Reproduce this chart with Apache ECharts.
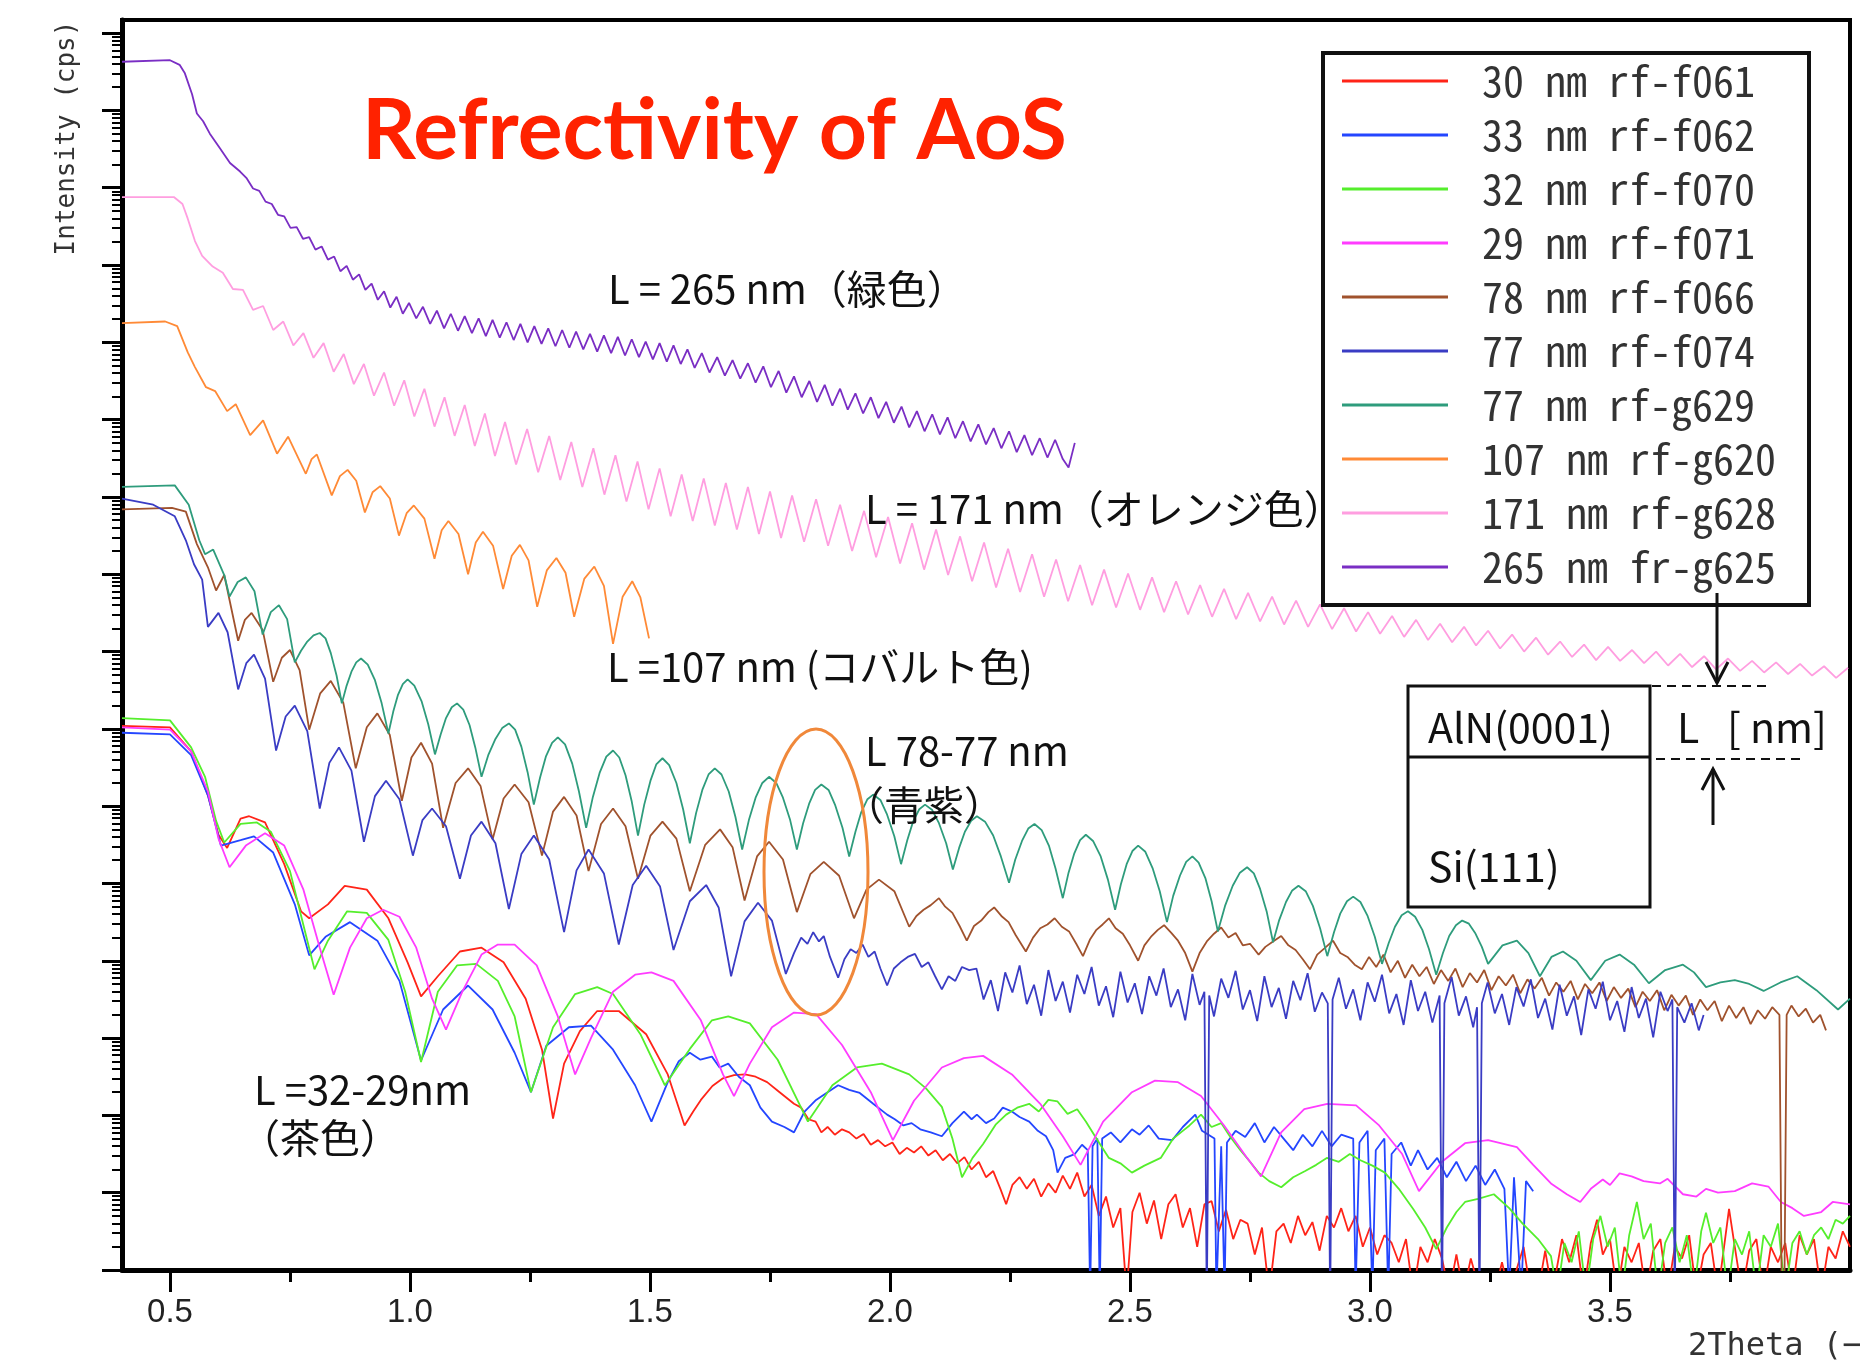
<!DOCTYPE html>
<html>
<head>
<meta charset="utf-8">
<style>
  html, body { margin: 0; padding: 0; background: #fff; }
  #chart { width: 1860px; height: 1360px; }
</style>
<script src="https://cdn.jsdelivr.net/npm/echarts@6/dist/echarts.min.js"></script>
</head>
<body>
<div id="chart"></div>
<script>
// legend names and line colours, same order as the legend box
const seriesNames = ['30 nm rf-f061', '33 nm rf-f062', '32 nm rf-f070', '29 nm rf-f071', '78 nm rf-f066',
  '77 nm rf-f074', '77 nm rf-g629', '107 nm rf-g620', '171 nm rf-g628', '265 nm fr-g625'];
const seriesColors = ['#ff2418', '#2446ff', '#55ee2c', '#ff3cff', '#a0522d',
  '#3a3cc4', '#2e9c7c', '#ff8a36', '#ff9ee0', '#7a2ec4'];

const xMajorTicks = [0.5, 1.0, 1.5, 2.0, 2.5, 3.0, 3.5];
const xMinorTicks = [0.75, 1.25, 1.75, 2.25, 2.75, 3.25, 3.75];
// y axis is in decades (log10 cps), 0 .. 16.17, no labels
const yDecades = [0, 1, 2, 3, 4, 5, 6, 7, 8, 9, 10, 11, 12, 13, 14, 15, 16];

// each point: [2Theta (deg), log10 of intensity (cps)]
const f061 = [[0.400,7.04],[0.500,7.02],[0.544,6.71],[0.579,6.14],[0.601,5.63],[0.619,5.46],[0.647,5.84],[0.665,5.87],[0.698,5.79],[0.738,5.25],[0.773,4.64],[0.790,4.55],[0.829,4.73],[0.864,4.97],[0.910,4.92],[0.955,4.55],[0.995,3.98],[1.023,3.54],[1.058,3.80],[1.104,4.12],[1.149,4.17],[1.195,3.98],[1.241,3.51],[1.275,2.85],[1.298,1.96],[1.321,2.67],[1.354,3.09],[1.390,3.35],[1.435,3.35],[1.492,3.05],[1.537,2.53],[1.572,1.87],[1.590,2.05],[1.606,2.20],[1.630,2.38],[1.652,2.48],[1.675,2.52],[1.698,2.53],[1.720,2.50],[1.744,2.43],[1.770,2.30],[1.800,2.15],[1.815,2.10],[1.830,1.95],[1.845,1.92],[1.857,1.78],[1.870,1.85],[1.885,1.75],[1.900,1.82],[1.915,1.78],[1.930,1.70],[1.945,1.76],[1.960,1.62],[1.975,1.68],[1.990,1.60],[2.005,1.65],[2.020,1.50],[2.035,1.58],[2.050,1.52],[2.065,1.60],[2.080,1.48],[2.095,1.55],[2.110,1.42],[2.125,1.50],[2.140,1.38],[2.155,1.46],[2.170,1.30],[2.185,1.40],[2.200,1.20],[2.215,1.28],[2.230,1.05],[2.242,0.85],[2.255,1.10],[2.270,1.20],[2.285,1.05],[2.300,1.18],[2.315,0.95],[2.330,1.12],[2.345,1.00],[2.360,1.22],[2.375,1.05],[2.390,1.26],[2.405,0.95],[2.420,1.10],[2.435,0.70],[2.450,0.95],[2.465,0.55],[2.480,0.80],[2.493,-0.3],[2.505,0.75],[2.520,1.00],[2.535,0.60],[2.550,0.90],[2.565,0.40],[2.580,0.85],[2.595,0.98],[2.610,0.55],[2.625,0.80],[2.640,0.30],[2.655,0.85],[2.670,0.89],[2.685,0.50],[2.700,0.78],[2.715,0.40],[2.730,0.65],[2.745,0.60],[2.760,0.20],[2.775,0.55],[2.790,-0.3],[2.805,0.50],[2.820,0.60],[2.835,0.35],[2.850,0.70],[2.865,0.45],[2.880,0.62],[2.895,0.25],[2.910,0.70],[2.925,0.55],[2.940,0.80],[2.955,0.50],[2.970,0.70],[2.985,0.30],[3.000,0.55],[3.015,0.20],[3.030,0.45],[3.045,0.35],[3.060,0.10],[3.075,0.40],[3.090,-0.3],[3.105,0.30],[3.120,0.10],[3.135,0.40],[3.150,0.15],[3.165,-0.3],[3.180,0.20],[3.195,-0.3],[3.210,0.15],[3.230,-0.3],[3.260,-0.3],[3.275,0.10],[3.290,-0.3],[3.320,0.30],[3.335,-0.3],[3.350,-0.3],[3.365,0.25],[3.380,-0.3],[3.400,0.40],[3.415,0.10],[3.430,0.45],[3.445,-0.3],[3.460,0.35],[3.473,0.65],[3.485,0.20],[3.500,0.40],[3.515,-0.3],[3.530,0.30],[3.545,0.10],[3.560,0.35],[3.575,-0.3],[3.590,0.25],[3.605,0.40],[3.620,-0.3],[3.635,0.30],[3.650,0.15],[3.665,0.45],[3.680,-0.3],[3.695,0.20],[3.710,0.35],[3.725,-0.3],[3.748,0.79],[3.760,0.30],[3.775,-0.3],[3.790,0.25],[3.805,0.40],[3.820,-0.3],[3.835,0.30],[3.850,0.10],[3.865,0.35],[3.880,-0.3],[3.895,0.45],[3.910,0.20],[3.925,0.40],[3.940,-0.3],[3.955,0.30],[3.970,0.15],[3.985,0.50],[4.000,0.30]];

const f062 = [[0.400,6.95],[0.500,6.93],[0.544,6.66],[0.579,6.14],[0.606,5.49],[0.647,5.56],[0.675,5.61],[0.715,5.40],[0.760,4.73],[0.790,4.07],[0.824,4.31],[0.875,4.50],[0.932,4.26],[0.978,3.74],[1.023,2.71],[1.069,3.37],[1.121,3.68],[1.172,3.37],[1.218,2.81],[1.252,2.30],[1.284,2.90],[1.331,3.14],[1.377,3.16],[1.423,2.85],[1.469,2.39],[1.503,1.92],[1.537,2.43],[1.560,2.70],[1.583,2.81],[1.605,2.72],[1.629,2.76],[1.645,2.62],[1.663,2.67],[1.685,2.50],[1.708,2.39],[1.730,2.10],[1.754,1.92],[1.780,1.85],[1.800,1.78],[1.822,2.05],[1.846,2.20],[1.870,2.30],[1.892,2.39],[1.915,2.33],[1.937,2.29],[1.965,2.15],[1.994,2.01],[2.010,1.95],[2.028,1.87],[2.045,1.90],[2.063,1.82],[2.085,1.78],[2.108,1.73],[2.130,1.90],[2.154,2.05],[2.170,1.95],[2.181,2.01],[2.200,1.90],[2.217,1.96],[2.235,2.10],[2.254,2.05],[2.270,1.98],[2.290,1.92],[2.308,1.80],[2.325,1.73],[2.340,1.55],[2.349,1.26],[2.365,1.45],[2.385,1.50],[2.400,1.62],[2.412,1.55],[2.417,-0.3],[2.422,1.60],[2.432,1.70],[2.437,-0.3],[2.442,1.70],[2.460,1.78],[2.480,1.65],[2.504,1.82],[2.520,1.75],[2.539,1.87],[2.560,1.70],[2.588,1.68],[2.610,1.85],[2.636,2.01],[2.650,1.80],[2.676,1.70],[2.680,-0.3],[2.690,1.60],[2.697,-0.3],[2.702,1.65],[2.720,1.80],[2.740,1.72],[2.760,1.90],[2.780,1.65],[2.800,1.85],[2.820,1.70],[2.840,1.55],[2.860,1.75],[2.880,1.60],[2.900,1.80],[2.920,1.60],[2.940,1.75],[2.965,1.70],[2.970,-0.3],[2.978,1.65],[2.995,1.80],[3.005,-0.3],[3.012,1.55],[3.030,1.70],[3.038,-0.3],[3.045,1.50],[3.065,1.65],[3.085,1.35],[3.100,1.55],[3.120,1.30],[3.140,1.45],[3.160,1.20],[3.180,1.40],[3.200,1.15],[3.220,1.35],[3.240,1.10],[3.260,1.30],[3.280,1.05],[3.290,-0.3],[3.300,1.20],[3.315,-0.3],[3.325,1.15],[3.340,1.02]];

const f070 = [[0.400,7.14],[0.500,7.11],[0.544,6.76],[0.573,6.38],[0.596,5.81],[0.613,5.53],[0.647,5.77],[0.681,5.79],[0.710,5.67],[0.750,5.16],[0.778,4.46],[0.801,3.89],[0.829,4.26],[0.869,4.64],[0.910,4.62],[0.955,4.27],[0.990,3.60],[1.023,2.69],[1.058,3.60],[1.098,3.94],[1.138,3.96],[1.183,3.74],[1.218,3.28],[1.252,2.30],[1.298,3.14],[1.344,3.57],[1.390,3.66],[1.423,3.57],[1.480,3.05],[1.531,2.39],[1.583,2.86],[1.629,3.23],[1.663,3.28],[1.708,3.19],[1.766,2.72],[1.829,1.92],[1.880,2.39],[1.931,2.62],[1.983,2.67],[2.040,2.53],[2.075,2.35],[2.108,2.11],[2.130,1.70],[2.150,1.20],[2.172,1.45],[2.194,1.63],[2.220,1.88],[2.242,2.01],[2.265,2.10],[2.290,2.15],[2.310,2.05],[2.330,2.20],[2.349,2.18],[2.370,2.02],[2.390,2.08],[2.408,1.92],[2.430,1.70],[2.456,1.45],[2.480,1.38],[2.504,1.26],[2.530,1.35],[2.564,1.45],[2.590,1.70],[2.610,1.80],[2.624,1.87],[2.648,2.01],[2.670,1.85],[2.690,1.90],[2.708,1.73],[2.730,1.55],[2.750,1.40],[2.768,1.26],[2.790,1.15],[2.815,1.07],[2.840,1.20],[2.865,1.28],[2.888,1.36],[2.910,1.45],[2.935,1.40],[2.958,1.50],[2.980,1.42],[3.005,1.35],[3.031,1.26],[3.060,1.05],[3.090,0.79],[3.115,0.55],[3.138,0.27],[3.160,0.55],[3.180,0.75],[3.198,0.88],[3.225,0.92],[3.258,0.98],[3.290,0.80],[3.318,0.60],[3.350,0.40],[3.377,0.18],[3.390,-0.3],[3.405,0.35],[3.420,0.10],[3.435,0.50],[3.450,-0.3],[3.465,0.40],[3.480,0.70],[3.495,0.30],[3.510,0.55],[3.525,-0.3],[3.540,0.45],[3.556,0.88],[3.570,0.40],[3.585,0.60],[3.600,-0.3],[3.615,0.35],[3.630,0.55],[3.645,0.10],[3.660,0.45],[3.675,-0.3],[3.690,0.50],[3.700,0.74],[3.715,0.35],[3.730,0.55],[3.745,-0.3],[3.760,0.40],[3.775,0.20],[3.790,0.50],[3.805,-0.3],[3.820,0.45],[3.835,0.30],[3.850,0.60],[3.865,-0.3],[3.880,0.35],[3.895,0.50],[3.910,0.20],[3.925,0.45],[3.940,0.55],[3.955,0.40],[3.970,0.65],[3.985,0.60],[4.000,0.70]];

const f071 = [[0.400,7.02],[0.500,6.99],[0.544,6.71],[0.579,6.19],[0.601,5.58],[0.624,5.21],[0.658,5.49],[0.698,5.65],[0.738,5.49],[0.778,4.92],[0.812,4.17],[0.841,3.56],[0.875,4.17],[0.910,4.55],[0.944,4.66],[0.978,4.57],[1.013,4.17],[1.046,3.51],[1.075,3.11],[1.109,3.60],[1.149,4.08],[1.183,4.21],[1.218,4.21],[1.264,3.94],[1.308,3.28],[1.344,2.53],[1.377,3.00],[1.423,3.60],[1.469,3.82],[1.503,3.85],[1.549,3.74],[1.606,3.23],[1.652,2.53],[1.675,2.25],[1.708,2.67],[1.754,3.14],[1.800,3.33],[1.846,3.31],[1.900,2.91],[1.960,2.30],[2.006,1.68],[2.050,2.19],[2.108,2.62],[2.154,2.74],[2.194,2.77],[2.254,2.53],[2.313,2.15],[2.360,1.73],[2.397,1.36],[2.444,1.92],[2.504,2.30],[2.552,2.45],[2.600,2.43],[2.648,2.25],[2.696,1.87],[2.744,1.45],[2.773,1.21],[2.815,1.78],[2.863,2.08],[2.911,2.15],[2.971,2.13],[3.019,1.87],[3.067,1.50],[3.102,1.02],[3.150,1.40],[3.198,1.64],[3.246,1.68],[3.306,1.59],[3.340,1.36],[3.377,1.12],[3.410,0.98],[3.438,0.88],[3.460,1.05],[3.485,1.17],[3.500,1.10],[3.520,1.25],[3.545,1.21],[3.570,1.15],[3.604,1.12],[3.620,1.18],[3.652,0.98],[3.680,0.95],[3.700,1.05],[3.725,1.00],[3.760,1.02],[3.796,1.12],[3.830,1.08],[3.856,0.88],[3.880,0.80],[3.904,0.70],[3.940,0.75],[3.964,0.88],[4.000,0.85]];

const f066 = [[0.400,9.84],[0.504,9.86],[0.533,9.81],[0.556,9.39],[0.579,9.09],[0.596,8.79],[0.613,8.99],[0.642,8.14],[0.656,8.41],[0.670,8.50],[0.693,8.28],[0.715,7.61],[0.733,7.92],[0.750,8.02],[0.770,7.76],[0.790,6.99],[0.813,7.46],[0.835,7.62],[0.861,7.34],[0.887,6.49],[0.910,7.02],[0.932,7.20],[0.958,6.92],[0.983,6.07],[1.003,6.63],[1.023,6.82],[1.046,6.55],[1.069,5.72],[1.095,6.30],[1.121,6.49],[1.147,6.26],[1.172,5.57],[1.195,6.10],[1.218,6.28],[1.247,6.05],[1.275,5.36],[1.298,5.93],[1.321,6.12],[1.347,5.88],[1.372,5.16],[1.398,5.77],[1.423,5.97],[1.449,5.74],[1.475,5.06],[1.501,5.62],[1.526,5.80],[1.555,5.58],[1.583,4.90],[1.615,5.50],[1.646,5.70],[1.672,5.47],[1.697,4.78],[1.723,5.35],[1.748,5.54],[1.777,5.31],[1.806,4.63],[1.834,5.12],[1.862,5.28],[1.894,5.10],[1.925,4.55],[1.951,4.92],[1.977,5.05],[2.009,4.90],[2.040,4.44],[2.055,4.58],[2.070,4.66],[2.085,4.72],[2.102,4.81],[2.115,4.70],[2.130,4.62],[2.145,4.45],[2.160,4.26],[2.175,4.45],[2.190,4.52],[2.205,4.63],[2.217,4.69],[2.232,4.58],[2.247,4.50],[2.262,4.33],[2.283,4.12],[2.298,4.30],[2.313,4.42],[2.328,4.47],[2.343,4.55],[2.358,4.44],[2.373,4.38],[2.388,4.22],[2.402,4.06],[2.417,4.28],[2.430,4.40],[2.443,4.47],[2.456,4.55],[2.470,4.42],[2.485,4.35],[2.500,4.20],[2.517,4.00],[2.530,4.20],[2.545,4.32],[2.558,4.40],[2.571,4.46],[2.586,4.36],[2.600,4.26],[2.615,4.10],[2.630,3.86],[2.645,4.10],[2.660,4.25],[2.675,4.35],[2.690,4.43],[2.705,4.30],[2.720,4.36],[2.735,4.20],[2.750,4.22],[2.768,4.08],[2.782,4.18],[2.798,4.25],[2.815,4.32],[2.830,4.20],[2.845,4.14],[2.860,4.02],[2.875,3.89],[2.890,4.08],[2.905,4.16],[2.923,4.26],[2.938,4.10],[2.953,4.05],[2.968,3.95],[2.983,3.89],[2.998,4.05],[3.013,3.92],[3.028,4.08],[3.043,3.85],[3.058,4.00],[3.073,3.78],[3.088,3.95],[3.103,3.80],[3.118,3.92],[3.133,3.70],[3.148,3.88],[3.163,3.74],[3.178,3.90],[3.193,3.66],[3.208,3.84],[3.223,3.72],[3.238,3.88],[3.253,3.62],[3.268,3.80],[3.283,3.68],[3.298,3.82],[3.313,3.58],[3.328,3.76],[3.343,3.64],[3.358,3.78],[3.373,3.55],[3.388,3.72],[3.403,3.60],[3.418,3.74],[3.433,3.50],[3.448,3.70],[3.463,3.58],[3.478,3.72],[3.493,3.48],[3.508,3.66],[3.523,3.52],[3.538,3.64],[3.553,3.40],[3.568,3.60],[3.583,3.48],[3.598,3.62],[3.613,3.36],[3.628,3.56],[3.643,3.42],[3.658,3.55],[3.673,3.30],[3.688,3.50],[3.703,3.36],[3.718,3.48],[3.733,3.22],[3.748,3.42],[3.763,3.26],[3.778,3.40],[3.793,3.18],[3.808,3.36],[3.823,3.25],[3.838,3.40],[3.853,3.30],[3.858,-0.5],[3.863,-0.5],[3.868,3.30],[3.878,3.42],[3.893,3.28],[3.908,3.38],[3.923,3.20],[3.938,3.30],[3.950,3.10]];

const f074 = [[0.400,9.98],[0.465,9.90],[0.510,9.75],[0.533,9.44],[0.550,9.13],[0.567,8.93],[0.579,8.32],[0.601,8.50],[0.620,8.25],[0.642,7.51],[0.659,7.85],[0.675,7.96],[0.698,7.65],[0.721,6.72],[0.741,7.16],[0.760,7.30],[0.786,6.97],[0.812,5.97],[0.832,6.56],[0.852,6.76],[0.878,6.46],[0.904,5.54],[0.927,6.13],[0.950,6.33],[0.978,6.09],[1.006,5.36],[1.026,5.82],[1.046,5.97],[1.075,5.74],[1.104,5.06],[1.127,5.62],[1.149,5.80],[1.178,5.52],[1.206,4.67],[1.232,5.38],[1.258,5.62],[1.290,5.31],[1.321,4.37],[1.347,5.17],[1.372,5.44],[1.404,5.13],[1.435,4.21],[1.464,4.98],[1.492,5.23],[1.521,4.96],[1.549,4.14],[1.583,4.77],[1.617,4.98],[1.643,4.69],[1.669,3.80],[1.697,4.51],[1.725,4.75],[1.754,4.52],[1.783,3.83],[1.800,4.10],[1.815,4.30],[1.828,4.22],[1.840,4.37],[1.852,4.25],[1.862,4.32],[1.875,4.05],[1.892,3.78],[1.905,4.02],[1.918,4.15],[1.930,4.10],[1.943,4.21],[1.955,4.05],[1.968,4.12],[1.980,3.90],[1.994,3.68],[2.008,3.90],[2.022,3.98],[2.037,4.05],[2.052,4.09],[2.066,3.92],[2.080,3.98],[2.094,3.80],[2.108,3.63],[2.122,3.80],[2.136,3.74],[2.150,3.92],[2.165,3.88],[2.180,3.90],[2.195,3.50],[2.210,3.75],[2.225,3.35],[2.240,3.85],[2.255,3.59],[2.270,3.94],[2.285,3.44],[2.300,3.69],[2.315,3.29],[2.330,3.88],[2.345,3.48],[2.360,3.73],[2.375,3.33],[2.390,3.82],[2.405,3.57],[2.420,3.92],[2.435,3.42],[2.450,3.67],[2.465,3.27],[2.480,3.86],[2.495,3.46],[2.510,3.71],[2.525,3.31],[2.540,3.80],[2.555,3.55],[2.570,3.90],[2.585,3.40],[2.600,3.63],[2.615,3.23],[2.630,3.83],[2.645,3.43],[2.655,3.60],[2.660,-0.5],[2.665,3.55],[2.675,3.28],[2.690,3.77],[2.705,3.52],[2.720,3.87],[2.735,3.37],[2.750,3.62],[2.765,3.22],[2.780,3.80],[2.795,3.40],[2.810,3.65],[2.825,3.25],[2.840,3.74],[2.855,3.49],[2.870,3.84],[2.885,3.34],[2.900,3.59],[2.912,3.45],[2.917,-0.5],[2.922,3.50],[2.935,3.78],[2.950,3.38],[2.965,3.63],[2.980,3.23],[2.995,3.72],[3.010,3.47],[3.025,3.82],[3.040,3.32],[3.055,3.57],[3.070,3.17],[3.085,3.75],[3.100,3.35],[3.115,3.60],[3.130,3.20],[3.145,3.55],[3.150,-0.5],[3.155,3.45],[3.170,3.79],[3.185,3.29],[3.200,3.54],[3.215,3.14],[3.223,3.40],[3.228,-0.5],[3.233,3.45],[3.245,3.72],[3.260,3.32],[3.275,3.57],[3.290,3.17],[3.305,3.66],[3.320,3.41],[3.335,3.76],[3.350,3.26],[3.365,3.51],[3.380,3.11],[3.395,3.69],[3.410,3.29],[3.425,3.54],[3.440,3.04],[3.455,3.63],[3.470,3.38],[3.485,3.73],[3.500,3.23],[3.515,3.48],[3.530,3.08],[3.545,3.66],[3.560,3.26],[3.575,3.51],[3.590,3.01],[3.605,3.60],[3.620,3.35],[3.630,3.50],[3.635,-0.5],[3.640,3.40],[3.655,3.20],[3.670,3.45],[3.685,3.10],[3.695,3.30]];

const g629 = [[0.400,10.13],[0.510,10.15],[0.539,9.90],[0.561,9.44],[0.573,9.26],[0.590,9.32],[0.613,8.99],[0.624,8.71],[0.641,8.90],[0.658,8.96],[0.676,8.78],[0.693,8.22],[0.710,8.51],[0.727,8.60],[0.744,8.42],[0.760,7.86],[0.773,8.01],[0.786,8.13],[0.799,8.21],[0.812,8.24],[0.824,8.17],[0.835,7.98],[0.847,7.69],[0.858,7.33],[0.868,7.56],[0.878,7.74],[0.888,7.86],[0.898,7.91],[0.912,7.83],[0.927,7.63],[0.941,7.33],[0.955,6.94],[0.965,7.22],[0.975,7.44],[0.985,7.58],[0.995,7.64],[1.009,7.56],[1.024,7.36],[1.038,7.06],[1.052,6.67],[1.064,6.93],[1.075,7.14],[1.087,7.28],[1.098,7.33],[1.111,7.25],[1.124,7.05],[1.136,6.76],[1.149,6.38],[1.163,6.66],[1.178,6.87],[1.192,7.01],[1.206,7.07],[1.219,6.99],[1.232,6.77],[1.245,6.44],[1.258,6.02],[1.271,6.37],[1.283,6.64],[1.296,6.82],[1.308,6.89],[1.323,6.80],[1.338,6.55],[1.352,6.19],[1.367,5.72],[1.381,6.12],[1.395,6.43],[1.409,6.64],[1.423,6.72],[1.436,6.63],[1.449,6.40],[1.462,6.06],[1.475,5.62],[1.488,6.02],[1.501,6.33],[1.513,6.54],[1.526,6.62],[1.540,6.53],[1.555,6.30],[1.569,5.96],[1.583,5.52],[1.596,5.91],[1.609,6.21],[1.622,6.41],[1.635,6.49],[1.649,6.41],[1.664,6.19],[1.678,5.86],[1.692,5.44],[1.706,5.82],[1.720,6.11],[1.734,6.30],[1.748,6.38],[1.763,6.30],[1.777,6.11],[1.792,5.82],[1.806,5.44],[1.819,5.78],[1.832,6.04],[1.844,6.21],[1.857,6.28],[1.872,6.21],[1.886,6.01],[1.901,5.72],[1.915,5.35],[1.928,5.67],[1.940,5.92],[1.953,6.09],[1.965,6.15],[1.980,6.08],[1.994,5.89],[2.009,5.61],[2.023,5.25],[2.036,5.56],[2.048,5.80],[2.061,5.96],[2.073,6.02],[2.088,5.95],[2.102,5.78],[2.117,5.52],[2.131,5.18],[2.144,5.46],[2.156,5.67],[2.169,5.81],[2.181,5.87],[2.198,5.80],[2.215,5.62],[2.231,5.35],[2.248,5.01],[2.261,5.31],[2.275,5.55],[2.288,5.71],[2.301,5.77],[2.316,5.69],[2.331,5.49],[2.345,5.19],[2.360,4.81],[2.372,5.14],[2.384,5.39],[2.396,5.56],[2.408,5.63],[2.423,5.55],[2.439,5.35],[2.454,5.05],[2.469,4.66],[2.481,4.99],[2.493,5.25],[2.505,5.42],[2.517,5.49],[2.532,5.41],[2.547,5.20],[2.562,4.90],[2.577,4.50],[2.590,4.84],[2.604,5.10],[2.617,5.28],[2.630,5.35],[2.643,5.27],[2.657,5.07],[2.670,4.77],[2.683,4.38],[2.698,4.71],[2.714,4.97],[2.729,5.14],[2.744,5.21],[2.758,5.13],[2.771,4.93],[2.785,4.63],[2.798,4.24],[2.811,4.53],[2.825,4.76],[2.838,4.91],[2.851,4.97],[2.866,4.90],[2.881,4.71],[2.896,4.42],[2.911,4.06],[2.925,4.37],[2.938,4.61],[2.952,4.77],[2.965,4.83],[2.980,4.76],[2.995,4.58],[3.010,4.31],[3.025,3.96],[3.039,4.23],[3.052,4.44],[3.066,4.59],[3.079,4.64],[3.094,4.57],[3.109,4.40],[3.123,4.15],[3.138,3.82],[3.152,4.10],[3.165,4.32],[3.179,4.46],[3.192,4.52],[3.206,4.48],[3.219,4.36],[3.233,4.18],[3.246,3.96],[3.276,4.20],[3.306,4.26],[3.330,4.10],[3.354,3.80],[3.378,4.05],[3.402,4.12],[3.430,4.00],[3.460,3.75],[3.490,4.00],[3.520,4.08],[3.550,3.95],[3.581,3.71],[3.615,3.88],[3.652,3.95],[3.675,3.85],[3.700,3.66],[3.730,3.72],[3.760,3.75],[3.790,3.70],[3.820,3.61],[3.855,3.72],[3.890,3.80],[3.930,3.62],[3.975,3.37],[4.000,3.51]];

const g620 = [[0.400,12.25],[0.490,12.27],[0.515,12.21],[0.537,11.87],[0.552,11.68],[0.575,11.42],[0.594,11.37],[0.619,11.11],[0.637,11.20],[0.667,10.80],[0.694,10.99],[0.723,10.56],[0.746,10.78],[0.783,10.30],[0.795,10.49],[0.806,10.55],[0.837,10.02],[0.854,10.27],[0.870,10.35],[0.888,10.21],[0.906,9.80],[0.922,10.06],[0.938,10.14],[0.958,9.98],[0.977,9.50],[0.993,9.79],[1.008,9.89],[1.030,9.72],[1.051,9.20],[1.066,9.57],[1.080,9.69],[1.101,9.52],[1.121,9.00],[1.137,9.41],[1.152,9.55],[1.173,9.37],[1.194,8.81],[1.212,9.24],[1.229,9.38],[1.247,9.18],[1.265,8.58],[1.285,9.05],[1.305,9.21],[1.324,9.02],[1.342,8.45],[1.363,8.94],[1.384,9.10],[1.404,8.85],[1.423,8.10],[1.443,8.71],[1.463,8.91],[1.480,8.70],[1.498,8.17]];

const g628 = [[0.400,13.88],[0.508,13.88],[0.526,13.79],[0.537,13.60],[0.552,13.31],[0.567,13.12],[0.589,12.98],[0.610,12.90],[0.631,12.69],[0.652,12.68],[0.673,12.42],[0.694,12.47],[0.715,12.16],[0.736,12.27],[0.757,11.96],[0.778,12.12],[0.799,11.80],[0.820,11.99],[0.841,11.62],[0.862,11.85],[0.883,11.46],[0.904,11.72],[0.925,11.31],[0.946,11.61],[0.967,11.18],[0.988,11.51],[1.009,11.04],[1.030,11.40],[1.051,10.91],[1.072,11.29],[1.093,10.79],[1.114,11.19],[1.135,10.66],[1.156,11.08],[1.177,10.53],[1.198,10.97],[1.221,10.42],[1.244,10.88],[1.267,10.32],[1.290,10.79],[1.313,10.22],[1.336,10.71],[1.359,10.13],[1.382,10.63],[1.405,10.03],[1.428,10.54],[1.451,9.94],[1.474,10.46],[1.497,9.84],[1.520,10.37],[1.543,9.75],[1.566,10.29],[1.589,9.69],[1.612,10.24],[1.635,9.63],[1.658,10.18],[1.681,9.58],[1.704,10.13],[1.727,9.52],[1.750,10.07],[1.773,9.47],[1.796,10.02],[1.821,9.42],[1.846,9.97],[1.871,9.37],[1.896,9.90],[1.921,9.30],[1.946,9.82],[1.971,9.22],[1.996,9.74],[2.021,9.14],[2.046,9.66],[2.071,9.06],[2.096,9.58],[2.121,8.99],[2.146,9.49],[2.171,8.91],[2.196,9.41],[2.221,8.83],[2.246,9.33],[2.271,8.77],[2.296,9.26],[2.321,8.71],[2.346,9.19],[2.371,8.65],[2.396,9.12],[2.421,8.60],[2.446,9.06],[2.471,8.57],[2.496,9.01],[2.521,8.54],[2.546,8.96],[2.571,8.51],[2.596,8.91],[2.621,8.48],[2.646,8.86],[2.671,8.45],[2.696,8.81],[2.721,8.42],[2.746,8.76],[2.771,8.39],[2.796,8.71],[2.821,8.35],[2.846,8.66],[2.871,8.32],[2.896,8.61],[2.921,8.29],[2.946,8.56],[2.971,8.26],[2.996,8.51],[3.021,8.23],[3.046,8.46],[3.071,8.19],[3.096,8.41],[3.121,8.15],[3.146,8.36],[3.171,8.12],[3.196,8.32],[3.221,8.08],[3.246,8.27],[3.271,8.04],[3.296,8.22],[3.321,8.00],[3.346,8.18],[3.371,7.96],[3.396,8.13],[3.421,7.93],[3.446,8.09],[3.471,7.89],[3.496,8.06],[3.521,7.88],[3.546,8.02],[3.571,7.85],[3.596,8.00],[3.621,7.82],[3.646,7.97],[3.671,7.80],[3.696,7.94],[3.721,7.77],[3.746,7.91],[3.771,7.75],[3.796,7.88],[3.821,7.73],[3.846,7.86],[3.871,7.71],[3.896,7.84],[3.921,7.69],[3.946,7.81],[3.971,7.66],[3.996,7.79]];

const g625 = [[0.400,15.63],[0.500,15.65],[0.520,15.59],[0.531,15.48],[0.546,15.21],[0.556,14.96],[0.569,14.86],[0.583,14.70],[0.604,14.51],[0.625,14.32],[0.646,14.21],[0.660,14.12],[0.673,13.99],[0.686,13.96],[0.699,13.82],[0.712,13.79],[0.725,13.65],[0.738,13.63],[0.751,13.48],[0.764,13.49],[0.777,13.34],[0.790,13.36],[0.803,13.20],[0.816,13.24],[0.829,13.07],[0.842,13.11],[0.855,12.92],[0.868,12.99],[0.881,12.81],[0.894,12.88],[0.907,12.68],[0.920,12.76],[0.933,12.55],[0.946,12.66],[0.959,12.45],[0.972,12.59],[0.985,12.37],[0.998,12.51],[1.013,12.31],[1.027,12.46],[1.042,12.24],[1.056,12.41],[1.071,12.18],[1.085,12.37],[1.100,12.15],[1.114,12.34],[1.129,12.12],[1.143,12.31],[1.158,12.08],[1.172,12.29],[1.187,12.06],[1.201,12.26],[1.216,12.03],[1.230,12.24],[1.245,12.00],[1.259,12.21],[1.274,11.98],[1.288,12.18],[1.303,11.95],[1.317,12.16],[1.332,11.93],[1.346,12.14],[1.361,11.91],[1.375,12.11],[1.390,11.88],[1.404,12.09],[1.419,11.86],[1.433,12.07],[1.448,11.83],[1.462,12.04],[1.477,11.81],[1.491,12.01],[1.506,11.78],[1.520,11.99],[1.535,11.75],[1.549,11.96],[1.564,11.72],[1.578,11.91],[1.593,11.67],[1.608,11.86],[1.624,11.61],[1.640,11.81],[1.656,11.57],[1.672,11.77],[1.688,11.53],[1.704,11.73],[1.720,11.48],[1.736,11.69],[1.752,11.42],[1.768,11.63],[1.784,11.35],[1.800,11.56],[1.816,11.29],[1.832,11.50],[1.848,11.23],[1.864,11.45],[1.880,11.18],[1.896,11.40],[1.912,11.13],[1.928,11.34],[1.944,11.08],[1.960,11.29],[1.976,11.02],[1.992,11.23],[2.008,10.96],[2.024,11.17],[2.040,10.90],[2.056,11.11],[2.072,10.85],[2.088,11.07],[2.104,10.81],[2.120,11.03],[2.136,10.76],[2.152,10.98],[2.168,10.72],[2.184,10.94],[2.200,10.68],[2.216,10.89],[2.232,10.63],[2.248,10.85],[2.264,10.58],[2.280,10.80],[2.296,10.54],[2.312,10.76],[2.328,10.51],[2.344,10.74],[2.360,10.49],[2.372,10.38],[2.385,10.70]];

const seriesData = [f061, f062, f070, f071, f066, f074, g629, g620, g628, g625];

// minor tick positions inside each decade (2x .. 9x)
const yMinorTicks = [];
yDecades.forEach(function (d) {
  for (let m = 2; m <= 9; m++) {
    const v = d + Math.log10(m);
    if (v < 16.17) yMinorTicks.push(v);
  }
});

// pick a half-width mono font if the CJK mono face is there, else DejaVu Sans Mono
function hasFont(name) {
  const ctx = document.createElement('canvas').getContext('2d');
  ctx.font = '40px serif';
  const w1 = ctx.measureText('mmmWWWiii0123').width;
  ctx.font = "40px '" + name + "', serif";
  return ctx.measureText('mmmWWWiii0123').width !== w1;
}
const cjkMono = hasFont('Noto Sans Mono CJK JP');
const monoFamily = cjkMono ? "'Noto Sans Mono CJK JP'" : "'DejaVu Sans Mono'";
const legendFontSize = cjkMono ? 42 : 35;

const jpFont = "'Noto Sans CJK JP', 'Noto Sans', sans-serif";
const narrowFont = "'Liberation Sans Narrow', 'Liberation Sans', sans-serif";

function txt(text, x, y, size, opts) {
  opts = opts || {};
  return {
    type: 'text', z: 20,
    rotation: opts.rotation || 0,
    x: opts.rotation ? x : 0, y: opts.rotation ? y : 0,
    style: {
      text: text,
      x: opts.rotation ? 0 : x, y: opts.rotation ? 0 : y,
      fontSize: size,
      fontFamily: opts.family || jpFont,
      fontWeight: opts.weight || 'normal',
      fill: opts.color || '#111',
      align: opts.align || 'left', textAlign: opts.align || 'left',
      verticalAlign: 'middle', textVerticalAlign: 'middle'
    }
  };
}
function seg(x1, y1, x2, y2, width, dash) {
  return {
    type: 'line', z: 20,
    shape: { x1: x1, y1: y1, x2: x2, y2: y2 },
    style: { stroke: '#111', lineWidth: width, lineDash: dash || null }
  };
}
function head(points) {
  return { type: 'polyline', z: 20, shape: { points: points }, style: { stroke: '#111', lineWidth: 3, fill: null } };
}

const chart = echarts.init(document.getElementById('chart'), null, { renderer: 'canvas' });

const option = {
  animation: false,
  backgroundColor: '#fff',
  grid: {
    left: 122, top: 20, width: 1728, height: 1250,
    show: true, borderColor: '#000', borderWidth: 4,
    containLabel: false, outerBoundsMode: 'none'
  },
  legend: {
    data: seriesNames,
    orient: 'vertical',
    left: 1323, top: 53,
    padding: [7, 33, 17, 19],
    icon: 'rect',
    itemWidth: 106, itemHeight: 3, itemGap: 12,
    backgroundColor: '#fff', borderColor: '#111', borderWidth: 4, borderRadius: 0,
    selectedMode: false,
    textStyle: { fontFamily: monoFamily, fontSize: legendFontSize, color: '#333', lineHeight: 35, padding: [0, 0, 0, 29] }
  },
  xAxis: [
    {
      type: 'value', min: 0.4, max: 4.0, position: 'bottom',
      axisLine: { show: true, onZero: false, lineStyle: { color: '#000', width: 5 } },
      axisTick: { show: true, length: 22, lineStyle: { color: '#000', width: 3 }, customValues: xMajorTicks },
      axisLabel: {
        show: true, customValues: xMajorTicks, margin: 26,
        formatter: function (v) { return Number(v).toFixed(1); },
        fontFamily: narrowFont, fontSize: 33, color: '#222'
      },
      splitLine: { show: false }
    },
    {
      type: 'value', min: 0.4, max: 4.0, position: 'bottom',
      axisLine: { show: false },
      axisTick: { show: true, length: 12, lineStyle: { color: '#000', width: 3 }, customValues: xMinorTicks },
      axisLabel: { show: false },
      splitLine: { show: false }
    }
  ],
  yAxis: [
    {
      type: 'value', min: 0, max: 16.17, position: 'left',
      axisLine: { show: true, onZero: false, lineStyle: { color: '#000', width: 5 } },
      axisTick: { show: true, length: 20, lineStyle: { color: '#000', width: 3 }, customValues: yDecades },
      axisLabel: { show: false },
      splitLine: { show: false }
    },
    {
      type: 'value', min: 0, max: 16.17, position: 'left',
      axisLine: { show: false },
      axisTick: { show: true, length: 10, lineStyle: { color: '#000', width: 2 }, customValues: yMinorTicks },
      axisLabel: { show: false },
      splitLine: { show: false }
    }
  ],
  series: seriesData.map(function (pts, i) {
    return {
      name: seriesNames[i],
      type: 'line',
      xAxisIndex: 0, yAxisIndex: 0,
      showSymbol: false, symbol: 'none',
      clip: true, silent: true,
      lineStyle: { width: 1.8, color: seriesColors[i] },
      itemStyle: { color: seriesColors[i] },
      data: pts
    };
  }),
  graphic: [
    txt('Refrectivity of AoS', 362, 132, 84, { family: "Lato, 'Open Sans', sans-serif", weight: 'bold', color: '#ff2200' }),
    txt('Intensity (cps)', 67, 138, 26, { family: "'DejaVu Sans Mono', monospace", color: '#333', align: 'center', rotation: Math.PI / 2 }),
    txt('2Theta (−)', 1688, 1347, 32, { family: "'DejaVu Sans Mono', monospace", color: '#333' }),
    txt('L = 265 nm（緑色）', 608, 289, 40),
    txt('L = 171 nm（オレンジ色）', 865, 509, 40),
    txt('L =107 nm (コバルト色)', 607, 667, 40),
    txt('L 78-77 nm', 865, 751, 40),
    txt('（青紫）', 844, 805, 40),
    txt('L =32-29nm', 254, 1090, 40),
    txt('（茶色）', 240, 1138, 40),
    {
      type: 'ellipse', z: 20,
      shape: { cx: 816, cy: 872, rx: 52, ry: 143 },
      style: { fill: null, stroke: '#f0883a', lineWidth: 3 }
    },
    {
      type: 'rect', z: 19,
      shape: { x: 1408, y: 686, width: 242, height: 221 },
      style: { fill: '#fff', stroke: '#111', lineWidth: 3 }
    },
    seg(1408, 757, 1650, 757, 3),
    seg(1652, 686, 1770, 686, 2, [9, 6]),
    seg(1656, 759, 1800, 759, 2, [9, 6]),
    seg(1717, 593, 1717, 683, 3),
    head([[1706, 662], [1717, 683], [1728, 662]]),
    seg(1713, 825, 1713, 769, 3),
    head([[1702, 790], [1713, 769], [1724, 790]]),
    txt('AlN(0001)', 1428, 727, 41),
    txt('Si(111)', 1428, 866, 41),
    txt('L', 1677, 727, 41),
    txt('[ nm]', 1727, 727, 41)
  ]
};

chart.setOption(option);
</script>
</body>
</html>
